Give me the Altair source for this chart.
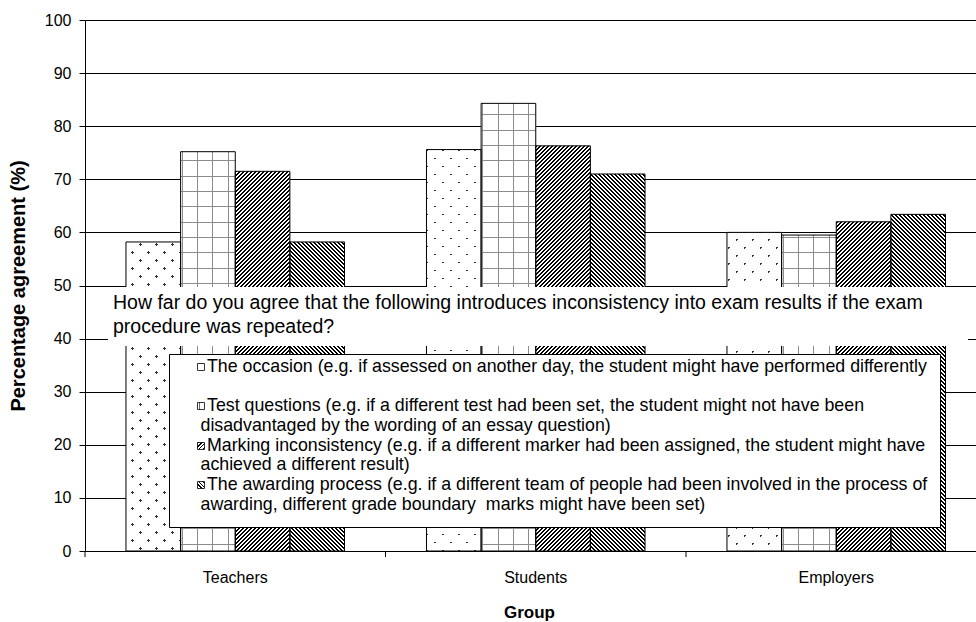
import math
import altair as alt
import pandas as pd

# ---- data -------------------------------------------------------------
groups = ["Teachers", "Students", "Employers"]
series = ["The occasion", "Test questions", "Marking inconsistency", "The awarding process"]
occasion = [58.2, 75.6, 60.0]
test_questions = [75.2, 84.3, 59.5]
marking = [71.5, 76.3, 62.0]
awarding = [58.2, 71.0, 63.4]
y_ticks = list(range(0, 101, 10))

question_lines = [
    "How far do you agree that the following introduces inconsistency into exam results if the exam",
    "procedure was repeated?",
]
legend_lines = [
    ["The occasion (e.g. if assessed on another day, the student might have performed differently"],
    ["Test questions (e.g. if a different test had been set, the student might not have been",
     "disadvantaged by the wording of an essay question)"],
    ["Marking inconsistency (e.g. if a different marker had been assigned, the student might have",
     "achieved a different result)"],
    ["The awarding process (e.g. if a different team of people had been involved in the process of",
     "awarding, different grade boundary\u00a0 marks might have been set)"],
]
legend_start_rows = [0, 2, 4, 6]

# ---- layout constants ---------------------------------------------------
FONT = "Liberation Sans"
PLOT_W, PLOT_H = 891, 531
RANGE_W = 901.5                      # band range runs past the right edge
BAR_W = RANGE_W / len(groups) / 5.5  # 4 bars + 150% gap per group
PX_PER_UNIT = PLOT_H / 100.0
L = 480.0                            # pixel length covered by a pattern gradient
SQ2 = math.sqrt(2)
CLEAR = "rgba(0,0,0,0)"
DOT = "#303030"
GRID_INK = "#8c8c8c"


def stripes(period, width, ink, paper, length, phase=0.0):
    out = []
    if phase > 0:
        out += [(0.0, paper), (phase / length, paper)]
    k = 0
    while True:
        s0 = (k * period + phase) / length
        if s0 >= 1:
            break
        s1 = min((k * period + phase + width) / length, 1.0)
        s2 = min(((k + 1) * period + phase) / length, 1.0)
        out += [(s0, ink), (s1, ink), (s1, paper), (s2, paper)]
        k += 1
    return out


def stops_js(stops):
    return "[" + ",".join('{"offset":%.5f,"color":"%s"}' % (o, c) for o, c in stops) + "]"


def grad_expr(x1, y1, x2, y2, stops):
    return '{"gradient":"linear","x1":%s,"y1":%s,"x2":%s,"y2":%s,"stops":%s}' % (
        x1, y1, x2, y2, stops_js(stops))


def grad_value(x1, y1, x2, y2, stops):
    return {"gradient": "linear", "x1": x1, "y1": y1, "x2": x2, "y2": y2,
            "stops": [{"offset": round(o, 5), "color": c} for o, c in stops]}


# per-bar gradient vectors (bounding-box units) giving 45 degree stripes
DEN = "(%.4f+datum.h*datum.h)" % (BAR_W * BAR_W)
AX = "(%.4f/%s)" % (SQ2 * BAR_W * L, DEN)
BY = "(%.4f*datum.h/%s)" % (SQ2 * L, DEN)


def slash(stops):
    return grad_expr("0", "0", AX, BY, stops)


def backslash(stops):
    return grad_expr("0", "1", AX, "1-" + BY, stops)


DOT_P = 16 / SQ2
HATCH_P = 4 / SQ2      # 4 px horizontal repeat
HATCH_W = 2 / SQ2      # 2 px horizontal ink
dots_mask = stripes(DOT_P, 1.7, CLEAR, "white", L)
hatch_fwd = stripes(HATCH_P, HATCH_W, "black", CLEAR, L)
hatch_back = stripes(HATCH_P, HATCH_W, "black", CLEAR, L)
grid_v = grad_expr("0", "0", "1", "0", stripes(15.33, 1.0, GRID_INK, CLEAR, BAR_W, 1.2))
grid_h = grad_expr("0", "1", "0", "1-%.4f/datum.h" % L, stripes(15.33, 1.0, GRID_INK, CLEAR, L, 6.5))

df = pd.DataFrame(
    [{"group": g, "series": s, "value": v}
     for s, vals in zip(series, [occasion, test_questions, marking, awarding])
     for g, v in zip(groups, vals)]
)

x_scale = alt.Scale(range=[0, RANGE_W], paddingInner=0, paddingOuter=0)
x_axis = alt.Axis(
    domainColor="black", domainWidth=1, ticks=False, tickSize=0, grid=False,
    labelAngle=0, labelFont=FONT, labelFontSize=16, labelColor="black",
    labelBaseline="alphabetic", labelPadding=31,
    titleFont=FONT, titleFontSize=17, titleFontWeight="bold", titleColor="black",
    titleX=444, titleY=66, titleAlign="center", titleBaseline="alphabetic",
)
y_axis = alt.Axis(
    values=y_ticks, grid=True, gridColor="black", gridWidth=1, gridOpacity=1,
    domainColor="black", domainWidth=1, tickColor="black", tickSize=6, tickWidth=1,
    labelFont=FONT, labelFontSize=16, labelColor="black", labelPadding=8,
    titleFont=FONT, titleFontSize=20, titleFontWeight="bold", titleColor="black",
    titleX=-67, titleY=PLOT_H / 2, titleAlign="center", titleBaseline="middle",
)

enc = dict(
    x=alt.X("group:N", sort=groups, title="Group", scale=x_scale, axis=x_axis),
    xOffset=alt.XOffset("series:N", sort=series,
                        scale=alt.Scale(paddingInner=0, paddingOuter=0.75)),
    y=alt.Y("value:Q", title="Percentage agreement (%)",
            scale=alt.Scale(domain=[0, 100]), axis=y_axis),
)

bars = alt.Chart(df).encode(**enc)

base_fill = bars.mark_bar(strokeWidth=0).encode(
    fill=alt.Fill("series:N", scale=alt.Scale(domain=series, range=[DOT, "white", "white", "white"]),
                  legend=None)
)


def pattern_layer(name, expr):
    return (
        bars.transform_filter(alt.datum.series == name)
        .transform_calculate(h="datum.value*%.4f" % PX_PER_UNIT)
        .transform_calculate(pat=expr)
        .mark_bar(strokeWidth=0)
        .encode(fill=alt.Fill("pat:N", scale=None, legend=None))
    )


layers = [
    base_fill,
    pattern_layer(series[0], slash(dots_mask)),
    pattern_layer(series[0], backslash(dots_mask)),
    pattern_layer(series[1], grid_v),
    pattern_layer(series[1], grid_h),
    pattern_layer(series[2], slash(hatch_fwd)),
    pattern_layer(series[3], backslash(hatch_back)),
    bars.mark_bar(fillOpacity=0, stroke="black", strokeWidth=1),
]

# category separator ticks under the x axis
layers.append(
    alt.Chart(pd.DataFrame({"group": groups})).mark_rule(color="black", strokeWidth=1).encode(
        x=alt.X("group:N", sort=groups, bandPosition=0, title="Group", scale=x_scale, axis=x_axis),
        y=alt.value(PLOT_H), y2=alt.value(PLOT_H + 6),
    )
)

one = pd.DataFrame({"k": [0]})

# question box
layers.append(
    alt.Chart(one).mark_rect(fill="white", strokeWidth=0).encode(
        x=alt.value(23), x2=alt.value(883), y=alt.value(267), y2=alt.value(326)
    )
)
for i, line in enumerate(question_lines):
    layers.append(
        alt.Chart(pd.DataFrame({"t": [line]})).mark_text(
            font=FONT, fontSize=19.5, color="black", align="left", baseline="alphabetic"
        ).encode(x=alt.value(28), y=alt.value(289 + 24 * i), text="t:N")
    )

# legend box
layers.append(
    alt.Chart(one).mark_rect(fill="white", stroke="black", strokeWidth=1).encode(
        x=alt.value(84.5), x2=alt.value(855.5), y=alt.value(334.5), y2=alt.value(507.5)
    )
)

SYM = 7.0
sym_fills = [
    "white",
    grad_value(0, 0, 1, 0, stripes(3.5, 1.0, "#6a6a6a", "white", SYM, 1.5)),
    grad_value(0, 0, 1, 1, stripes(2.6, 1.1, "black", "white", SYM * SQ2)),
    grad_value(0, 1, 1, 0, stripes(2.6, 1.1, "black", "white", SYM * SQ2)),
]
LINE_H = 19.65
BASE0 = 352.0
for entry, row0, sfill in zip(legend_lines, legend_start_rows, sym_fills):
    base_y = BASE0 + row0 * LINE_H
    layers.append(
        alt.Chart(one).mark_rect(fill=sfill, stroke="black", strokeWidth=0.8).encode(
            x=alt.value(112.5), x2=alt.value(119.5),
            y=alt.value(round(base_y) - 8.5), y2=alt.value(round(base_y) - 1.5),
        )
    )
    for j, line in enumerate(entry):
        layers.append(
            alt.Chart(pd.DataFrame({"t": [line]})).mark_text(
                font=FONT, fontSize=17.8, color="black", align="left", baseline="alphabetic"
            ).encode(x=alt.value(122 if j == 0 else 115.5), y=alt.value(base_y + j * LINE_H),
                     text="t:N")
        )

chart = (
    alt.layer(*layers)
    .properties(
        width=PLOT_W, height=PLOT_H,
        autosize=alt.AutoSizeParams(type="none"),
        padding={"left": 85, "top": 20, "right": 0, "bottom": 71},
    )
    .configure_view(stroke=None)
    .configure(font=FONT)
)

chart.save("out.html", embed_options={"renderer": "svg", "actions": False})
